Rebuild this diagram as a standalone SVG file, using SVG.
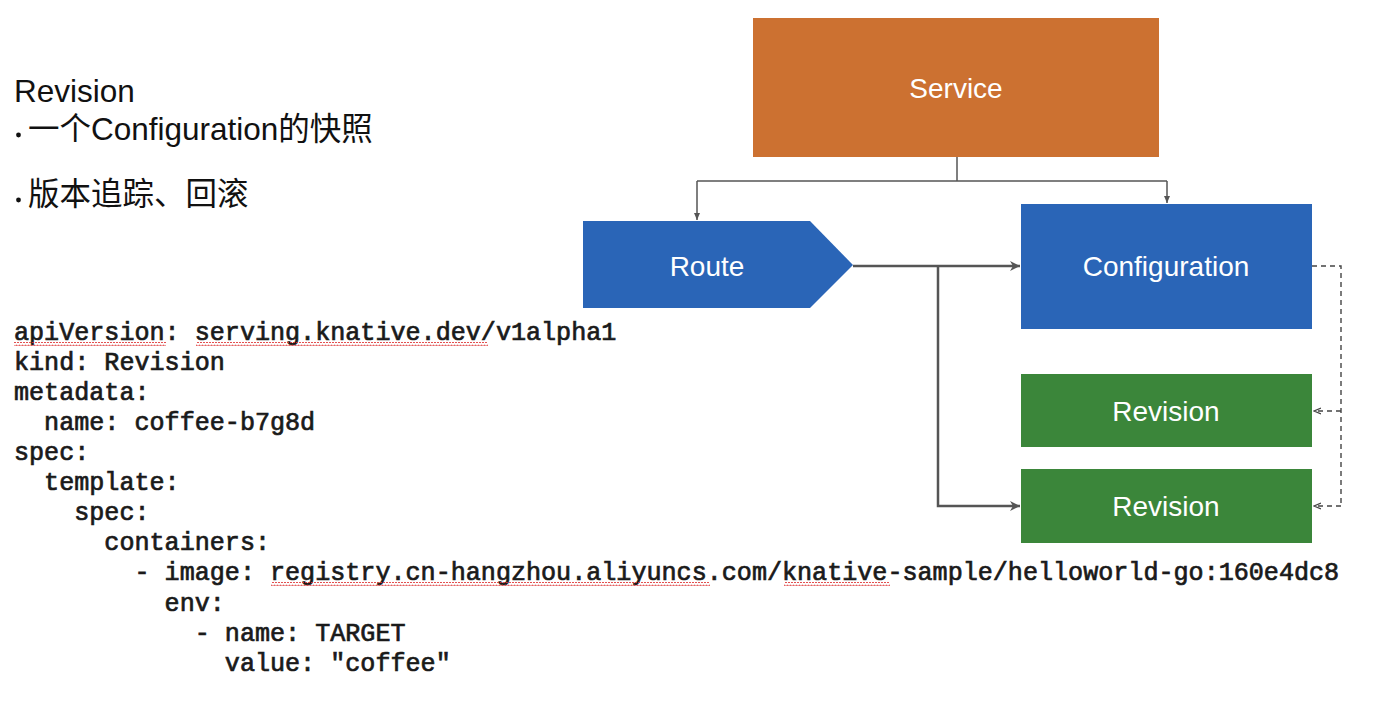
<svg xmlns="http://www.w3.org/2000/svg" width="1400" height="713" viewBox="0 0 1400 713">
<style>
.h{font-family:"Liberation Sans","Noto Sans CJK SC",sans-serif;font-size:31.5px;fill:#111}
.lbl{font-family:"Liberation Sans",Arial,sans-serif;font-size:28px;fill:#fff;text-anchor:middle}
.code{font-family:"Liberation Mono","Courier New",monospace;font-size:25.1px;fill:#1a1a1a;stroke:#1a1a1a;stroke-width:0.7;white-space:pre}
.thin{fill:none;stroke:#555;stroke-width:1.5}
.thick{fill:none;stroke:#555;stroke-width:2.5}
.dash{fill:none;stroke:#444;stroke-width:1.4;stroke-dasharray:5,4}
</style>
<defs>
<marker id="a1" markerWidth="8" markerHeight="8" refX="7" refY="4" orient="auto" markerUnits="userSpaceOnUse"><path d="M0,1 L7,4 L0,7 Z" fill="#555"/></marker>
<marker id="a2" markerWidth="12" markerHeight="12" refX="10" refY="5" orient="auto" markerUnits="userSpaceOnUse"><path d="M0,0 L10,5 L0,10 L3,5 Z" fill="#555"/></marker>
<marker id="a3" markerWidth="8" markerHeight="8" refX="7" refY="4" orient="auto" markerUnits="userSpaceOnUse"><path d="M0,1 L7,4 L0,7" fill="none" stroke="#444" stroke-width="1.2"/></marker>
<pattern id="wave" width="6" height="4" patternUnits="userSpaceOnUse"><path d="M0,3 L1.5,0.8 L3,3 L4.5,0.8 L6,3" fill="none" stroke="#d33" stroke-width="1"/></pattern>
</defs>

<g id="left-text">
<text class="h" x="14" y="102">Revision</text>
<circle cx="18.5" cy="135" r="2.4" fill="#111"/>
<text class="h" x="28" y="140">一个Configuration的快照</text>
<circle cx="18.5" cy="200" r="2.4" fill="#111"/>
<text class="h" x="28" y="205">版本追踪、回滚</text>
</g>

<g id="code">
<text class="code" x="14" y="340" xml:space="preserve">apiVersion: serving.knative.dev/v1alpha1</text>
<text class="code" x="14" y="370" xml:space="preserve">kind: Revision</text>
<text class="code" x="14" y="400" xml:space="preserve">metadata:</text>
<text class="code" x="14" y="430" xml:space="preserve">  name: coffee-b7g8d</text>
<text class="code" x="14" y="460" xml:space="preserve">spec:</text>
<text class="code" x="14" y="490" xml:space="preserve">  template:</text>
<text class="code" x="14" y="520" xml:space="preserve">    spec:</text>
<text class="code" x="14" y="550" xml:space="preserve">      containers:</text>
<text class="code" x="14" y="580" xml:space="preserve">        - image: registry.cn-hangzhou.aliyuncs.com/knative-sample/helloworld-go:160e4dc8</text>
<text class="code" x="14" y="611" xml:space="preserve">          env:</text>
<text class="code" x="14" y="641" xml:space="preserve">            - name: TARGET</text>
<text class="code" x="14" y="671" xml:space="preserve">              value: "coffee"</text>
<rect x="14" y="342" width="152" height="4" fill="url(#wave)"/>
<rect x="196" y="342" width="292" height="4" fill="url(#wave)"/>
<rect x="271" y="582" width="439" height="4" fill="url(#wave)"/>
<rect x="784" y="582" width="106" height="4" fill="url(#wave)"/>
</g>

<g id="connectors">
<path class="thin" d="M957,157 V181 M697,181 H1167" />
<path class="thin" d="M697,181 V220" marker-end="url(#a1)"/>
<path class="thin" d="M1167,181 V203" marker-end="url(#a1)"/>
<path class="thick" d="M853,266 H1020" marker-end="url(#a2)"/>
<path class="thick" d="M938,266 V506 H1020" marker-end="url(#a2)"/>
<path class="dash" d="M1312,266 H1341 V506"/>
<path class="dash" d="M1341,411 H1314" marker-end="url(#a3)"/>
<path class="dash" d="M1341,506 H1314" marker-end="url(#a3)"/>
</g>

<g id="service">
<rect x="753" y="18" width="406" height="139" fill="#CC7131"/>
<text class="lbl" x="956" y="98">Service</text>
</g>
<g id="route">
<path d="M583,221 H810 L853,265 L810,308 H583 Z" fill="#2A65B7"/>
<text class="lbl" x="707" y="276">Route</text>
</g>
<g id="configuration">
<rect x="1021" y="204" width="291" height="125" fill="#2A65B7"/>
<text class="lbl" x="1166" y="276">Configuration</text>
</g>
<g id="revision1">
<rect x="1021" y="374" width="291" height="73" fill="#3B863A"/>
<text class="lbl" x="1166" y="421">Revision</text>
</g>
<g id="revision2">
<rect x="1021" y="469" width="291" height="74" fill="#3B863A"/>
<text class="lbl" x="1166" y="516">Revision</text>
</g>
</svg>
